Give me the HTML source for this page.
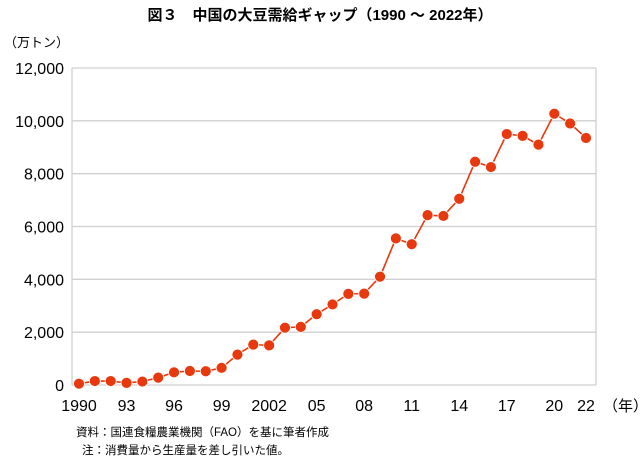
<!DOCTYPE html>
<html><head><meta charset="utf-8"><style>
body{margin:0;background:#fff;width:640px;height:457px;overflow:hidden;font-family:"Liberation Sans","Noto Sans CJK JP",sans-serif}
</style></head><body>
<svg width="640" height="457" style="position:absolute;left:0;top:0">
<text x="320" y="20" text-anchor="middle" font-size="15" font-weight="bold" fill="#000">図３　中国の大豆需給ギャップ（1990 ～ 2022年）</text>
<text x="4" y="47" font-size="13" fill="#000">（万トン）</text>
<g id="grid"></g>
<g id="plot"></g>
<g id="labels"></g>
<text x="76" y="436" font-size="11.5" fill="#000">資料：国連食糧農業機関（FAO）を基に筆者作成</text>
<text x="82" y="454" font-size="11.5" fill="#000">注：消費量から生産量を差し引いた値。</text>
</svg>
<script>
const years=[1990,1991,1992,1993,1994,1995,1996,1997,1998,1999,2000,2001,2002,2003,2004,2005,2006,2007,2008,2009,2010,2011,2012,2013,2014,2015,2016,2017,2018,2019,2020,2021,2022];
const gap=[50,150,150,80,130,280,480,530,520,650,1150,1530,1500,2170,2200,2680,3050,3450,3460,4100,5550,5330,6430,6400,7050,8450,8250,9500,9430,9100,10270,9900,9350];
const yTicks=[0,2000,4000,6000,8000,10000,12000];
const xTickLabels=[["1990",1990],["93",1993],["96",1996],["99",1999],["2002",2002],["05",2005],["08",2008],["11",2011],["14",2014],["17",2017],["20",2020],["22",2022]];
const NS="http://www.w3.org/2000/svg";
const L=72,R=596,T=68,B=385;
const x=v=>79+(v-1990)*(586-79)/32;
const y=v=>B-(v/12000)*(B-T);
function mk(t,a,p){const e=document.createElementNS(NS,t);for(const k in a)e.setAttribute(k,a[k]);p.appendChild(e);return e;}
const grid=document.getElementById('grid'),plot=document.getElementById('plot'),lab=document.getElementById('labels');
yTicks.forEach(v=>{
 const g=mk('line',{x1:L,x2:R,y1:y(v),y2:y(v),stroke:'#d0d0d0','stroke-width':1.3},grid);
 
 
 const t=mk('text',{x:L-8,y:y(v)+6,'text-anchor':'end','font-size':16,fill:'#000'},lab);
 t.textContent=v.toLocaleString('en-US');
 
 
});
const b1=mk('line',{x1:L,x2:L,y1:T,y2:B,stroke:'#d0d0d0','stroke-width':1.3},grid);


const b2=mk('line',{x1:R,x2:R,y1:T,y2:B,stroke:'#d0d0d0','stroke-width':1.3},grid);


xTickLabels.forEach(([s,v])=>{
 const t=mk('text',{x:x(v),y:411,'text-anchor':'middle','font-size':16,fill:'#000'},lab);
 t.textContent=s;
 
 
});
const u=mk('text',{x:603,y:411,'font-size':15,fill:'#000'},lab);
u.textContent='（年）';


const ln=mk('polyline',{points:years.map((v,i)=>x(v)+','+y(gap[i])).join(' '),fill:'none',stroke:'#e8380d','stroke-width':1.6},plot);


years.forEach((v,i)=>{
 const c=mk('circle',{cx:x(v),cy:y(gap[i]),r:5.5,fill:'#e8380d',stroke:'#fff','stroke-width':0.8},plot);
 
 
});
</script>
</body></html>
